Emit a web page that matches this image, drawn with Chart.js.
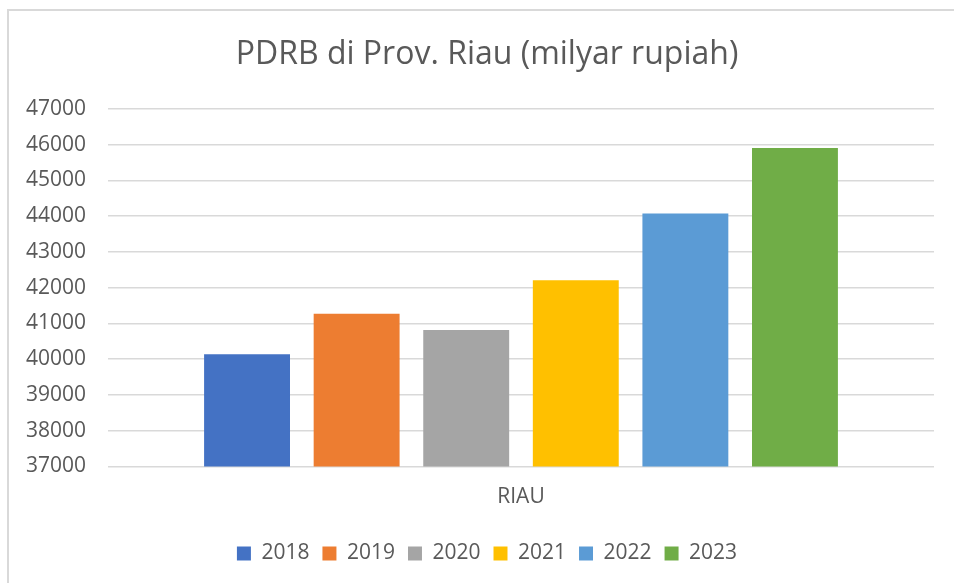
<!DOCTYPE html>
<html>
<head>
<meta charset="utf-8">
<script src="https://cdn.jsdelivr.net/npm/chart.js@4.4.1/dist/chart.umd.min.js"></script>
<style>
    html, body { margin: 0; padding: 0; background: #fff; overflow: hidden; width: 954px; height: 583px; }
    #frame { position: absolute; left: 7px; top: 9px; width: 2000px; height: 2000px;
             border-left: 2px solid #d9d9d9; border-top: 2px solid #d9d9d9; }
    #wrap { position: absolute; left: 0; top: 0; width: 974px; height: 583px; }
</style>
</head>
<body>
<div id="frame"></div>
<div id="wrap"><canvas id="pdrb-chart"></canvas></div>
<script>
    var categories = ['RIAU'];
    var years = ['2018', '2019', '2020', '2021', '2022', '2023'];
    var values = [40140, 41270, 40820, 42210, 44075, 45905];
    var colors = ['#4472C4', '#ED7D31', '#A5A5A5', '#FFC000', '#5B9BD5', '#70AD47'];
    var yTicks = [37000, 38000, 39000, 40000, 41000, 42000, 43000, 44000, 45000, 46000, 47000];

    var textColor = '#595959';
    var gridColor = '#d9d9d9';

    var datasets = years.map(function (year, i) {
        return {
            label: year,
            data: [values[i]],
            backgroundColor: colors[i],
            borderWidth: 0,
            categoryPercentage: 0.796,
            barPercentage: 0.784
        };
    });

    var ctx = document.getElementById('pdrb-chart');
    var myChart = new Chart(ctx, {
        type: 'bar',
        data: {
            labels: categories,
            datasets: datasets
        },
        options: {
            responsive: true,
            maintainAspectRatio: false,
            animation: false,
            layout: {
                padding: { top: 10, left: 0, right: 0, bottom: 9 }
            },
            scales: {
                x: {
                    grid: { display: false, drawTicks: false },
                    border: { display: false },
                    ticks: {
                        color: textColor,
                        padding: 18,
                        font: { family: 'Open Sans', size: 21 }
                    },
                    afterFit: function (scale) { scale.height = 63.5; }
                },
                y: {
                    min: yTicks[0],
                    max: yTicks[yTicks.length - 1],
                    afterBuildTicks: function (scale) {
                        scale.ticks = yTicks.map(function (v) { return { value: v }; });
                    },
                    grid: { color: gridColor, lineWidth: 1.5, drawTicks: false },
                    border: { display: false },
                    ticks: {
                        color: textColor,
                        padding: 22,
                        font: { family: 'Open Sans', size: 21 },
                        callback: function (value) { return String(value); }
                    },
                    afterFit: function (scale) { scale.width = 108; }
                },
                // empty right-hand spacer so the plot ends where the reference does
                yRight: {
                    position: 'right',
                    grid: { display: false, drawTicks: false },
                    border: { display: false },
                    ticks: { display: false },
                    afterFit: function (scale) { scale.width = 40; }
                }
            },
            plugins: {
                title: {
                    display: true,
                    text: 'PDRB di Prov. Riau (milyar rupiah)',
                    color: textColor,
                    font: { family: 'Open Sans', size: 32, weight: 'normal' },
                    padding: { top: 26, bottom: 34.5 }
                },
                legend: {
                    position: 'bottom',
                    labels: {
                        color: textColor,
                        boxWidth: 14,
                        boxHeight: 14,
                        padding: 13,
                        font: { family: 'Open Sans', size: 21 }
                    }
                },
                tooltip: { enabled: false }
            }
        }
    });
</script>
</body>
</html>
